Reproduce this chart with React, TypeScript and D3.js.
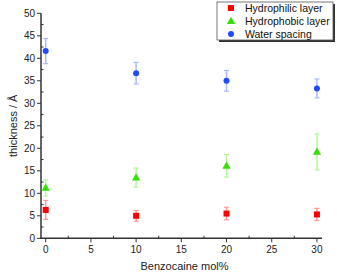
import * as d3 from 'd3'

const W = 337
const H = 274

// x positions (Benzocaine mol%) shared by all series
const molPct = [0, 10, 20, 30]

const hydrophilic = [6.3, 5.0, 5.5, 5.3]
const hydrophilicErr = [2.1, 1.2, 1.4, 1.35]

const hydrophobic = [11.2, 13.5, 16.1, 19.2]
const hydrophobicErr = [1.8, 2.1, 2.5, 4.0]

const waterSpacing = [41.6, 36.7, 35.0, 33.3]
const waterSpacingErr = [2.8, 2.4, 2.3, 2.1]

const xMajor = [0, 5, 10, 15, 20, 25, 30]
const xMinor = [2.5, 7.5, 12.5, 17.5, 22.5, 27.5]
const yMajor = [0, 5, 10, 15, 20, 25, 30, 35, 40, 45, 50]
const yMinor = [2.5, 7.5, 12.5, 17.5, 22.5, 27.5, 32.5, 37.5, 42.5, 47.5]

const legendLabels = ['Hydrophilic layer', 'Hydrophobic layer', 'Water spacing']

const FONT = 'Liberation Sans, Arial, sans-serif'
const AXIS = '#333'

type Shape = 'square' | 'triangle' | 'circle'

interface Series {
  name: string
  values: number[]
  errs: number[]
  shape: Shape
  color: string
  errColor: string
}

const series: Series[] = [
  { name: legendLabels[0], values: hydrophilic, errs: hydrophilicErr, shape: 'square', color: '#ff0000', errColor: '#ff9a9a' },
  { name: legendLabels[1], values: hydrophobic, errs: hydrophobicErr, shape: 'triangle', color: '#33e000', errColor: '#b4f79a' },
  { name: legendLabels[2], values: waterSpacing, errs: waterSpacingErr, shape: 'circle', color: '#1f4bff', errColor: '#a9b9ff' },
]

function Marker({ shape, x, y, color }: { shape: Shape; x: number; y: number; color: string }) {
  if (shape === 'square') return <rect x={x - 3} y={y - 3} width={6} height={6} fill={color} />
  if (shape === 'circle') return <circle cx={x} cy={y} r={3} fill={color} />
  const sym = d3.symbol().type(d3.symbolTriangle).size(30)()
  return <path d={sym ?? ''} transform={`translate(${x},${y + 0.5})`} fill={color} />
}

export default function App() {
  const xScale = d3.scaleLinear().domain([-0.52, 30.56]).range([41, 322])
  const yScale = d3.scaleLinear().domain([0, 50]).range([238.3, 13.3])

  const x0 = xScale.range()[0]
  const x1 = xScale.range()[1]
  const y0 = yScale(0)
  const yTop = yScale(50)

  return (
    <svg
      width={W}
      height={H}
      style={{ position: 'absolute', left: 0, top: 0, background: '#fff' }}
      fontFamily={FONT}
    >
      {/* axes */}
      <line x1={x0} y1={yTop} x2={x0} y2={y0 + 0.7} stroke={AXIS} strokeWidth={1.5} />
      <line x1={x0 - 0.7} y1={y0} x2={x1} y2={y0} stroke={AXIS} strokeWidth={1.5} />

      {/* y ticks: major outside, minor inside */}
      {yMajor.map((t) => (
        <g key={t}>
          <line x1={x0 - 4} x2={x0} y1={yScale(t)} y2={yScale(t)} stroke={AXIS} strokeWidth={1} />
          <text x={x0 - 6} y={yScale(t) + 3.5} textAnchor="end" fontSize={10} fill="#222">
            {t}
          </text>
        </g>
      ))}
      {yMinor.map((t) => (
        <line key={t} x1={x0} x2={x0 + 2.5} y1={yScale(t)} y2={yScale(t)} stroke={AXIS} strokeWidth={1} />
      ))}

      {/* x ticks */}
      {xMajor.map((t) => (
        <g key={t}>
          <line x1={xScale(t)} x2={xScale(t)} y1={y0} y2={y0 + 4} stroke={AXIS} strokeWidth={1} />
          <text x={xScale(t)} y={y0 + 15} textAnchor="middle" fontSize={10} fill="#222">
            {t}
          </text>
        </g>
      ))}
      {xMinor.map((t) => (
        <line key={t} x1={xScale(t)} x2={xScale(t)} y1={y0} y2={y0 - 2.5} stroke={AXIS} strokeWidth={1} />
      ))}

      {/* axis titles */}
      <text x={(x0 + x1) / 2 + 3} y={270} textAnchor="middle" fontSize={11} fill="#222">
        Benzocaine mol%
      </text>
      <text
        transform={`translate(17,${(y0 + yTop) / 2}) rotate(-90)`}
        textAnchor="middle"
        fontSize={11}
        fill="#222"
      >
        thickness / Å
      </text>

      {/* error bars + markers */}
      {series.map((s) => (
        <g key={s.name}>
          {s.values.map((v, i) => {
            const cx = xScale(molPct[i])
            const yHi = yScale(v + s.errs[i])
            const yLo = yScale(v - s.errs[i])
            return (
              <g key={i}>
                <line x1={cx} x2={cx} y1={yHi} y2={yLo} stroke={s.errColor} strokeWidth={1.5} />
                <line x1={cx - 2.5} x2={cx + 2.5} y1={yHi} y2={yHi} stroke={s.errColor} strokeWidth={1.2} />
                <line x1={cx - 2.5} x2={cx + 2.5} y1={yLo} y2={yLo} stroke={s.errColor} strokeWidth={1.2} />
              </g>
            )
          })}
          {s.values.map((v, i) => (
            <Marker key={i} shape={s.shape} x={xScale(molPct[i])} y={yScale(v)} color={s.color} />
          ))}
        </g>
      ))}

      {/* legend */}
      <rect x={219} y={4} width={116} height={38} fill="#333" />
      <rect x={217} y={2} width={116} height={38} fill="#fff" stroke="#555" strokeWidth={0.8} />
      {series.map((s, i) => {
        const ly = 8 + i * 13
        return (
          <g key={s.name}>
            <Marker shape={s.shape} x={231} y={ly} color={s.color} />
            <text x={245} y={ly + 4} fontSize={10.5} fill="#111">
              {s.name}
            </text>
          </g>
        )
      })}
    </svg>
  )
}
